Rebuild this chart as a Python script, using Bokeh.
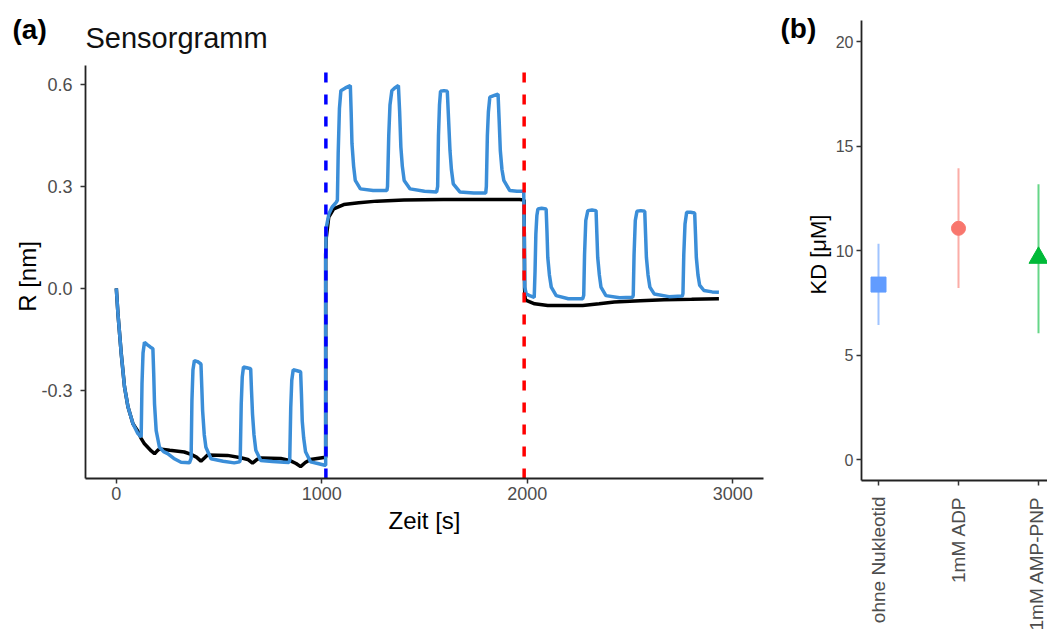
import math
from bokeh.plotting import figure
from bokeh.models import Label, FixedTicker, NumeralTickFormatter, Range1d
from bokeh.layouts import row
from bokeh.embed import file_html
from bokeh.resources import INLINE

# ---------------- data: panel (a) sensorgram ----------------
blue_t = [0, 8, 24, 40, 57, 81, 105, 121, 125, 130, 137, 150, 165, 178, 182, 186, 194, 210, 230, 250, 280, 315, 356,
          364, 368, 373, 380, 395, 412, 416, 420, 428, 436, 461, 520, 574, 600,
          603, 608, 613, 619, 635, 654, 658, 663, 670, 679, 703, 760, 816, 840,
          844, 849, 854, 861, 880, 897, 901, 905, 912, 921, 945, 980, 1015,
          1019, 1019, 1022, 1035, 1050, 1071, 1076,
          1080, 1086, 1093, 1115, 1139, 1143, 1147, 1155, 1163, 1188, 1250, 1317,
          1320, 1326, 1332, 1341, 1355, 1373, 1379, 1385, 1392, 1401, 1430, 1500, 1559,
          1564, 1568, 1573, 1578, 1595, 1611, 1617, 1624, 1631, 1640, 1672, 1740, 1798,
          1801, 1806, 1811, 1818, 1840, 1858, 1863, 1869, 1877, 1886, 1915, 1950, 1983,
          1986, 1988, 1995, 2015, 2034,
          2038, 2042, 2047, 2052, 2070, 2092, 2096, 2100, 2108, 2117, 2141, 2200, 2270,
          2275, 2279, 2285, 2295, 2315, 2335, 2339, 2343, 2351, 2359, 2383, 2450, 2513,
          2516, 2520, 2526, 2534, 2553, 2572, 2576, 2580, 2588, 2597, 2618, 2690, 2755,
          2758, 2762, 2768, 2776, 2795, 2815, 2819, 2823, 2831, 2839, 2860, 2900, 2933]
blue_r = [0.0, -0.075, -0.192, -0.29, -0.349, -0.398, -0.427, -0.437, -0.28, -0.19, -0.158, -0.165, -0.172, -0.177, -0.25, -0.34, -0.418, -0.467, -0.48, -0.486, -0.50, -0.511, -0.513,
          -0.50, -0.33, -0.24, -0.212, -0.215, -0.222, -0.29, -0.359, -0.43, -0.467, -0.501, -0.508, -0.513, -0.51,
          -0.505, -0.34, -0.26, -0.231, -0.233, -0.236, -0.30, -0.37, -0.43, -0.476, -0.506, -0.509, -0.511, -0.512,
          -0.505, -0.35, -0.27, -0.239, -0.242, -0.245, -0.31, -0.39, -0.44, -0.48, -0.51, -0.515, -0.52,
          -0.52, 0.10, 0.18, 0.22, 0.239, 0.254, 0.26,
          0.40, 0.53, 0.582, 0.59, 0.597, 0.52, 0.426, 0.36, 0.318, 0.293, 0.288, 0.288,
          0.30, 0.45, 0.54, 0.582, 0.59, 0.597, 0.52, 0.416, 0.36, 0.318, 0.293, 0.286, 0.284,
          0.30, 0.45, 0.54, 0.58, 0.582, 0.58, 0.50, 0.406, 0.35, 0.308, 0.284, 0.281, 0.281,
          0.30, 0.45, 0.52, 0.563, 0.568, 0.572, 0.50, 0.406, 0.35, 0.318, 0.288, 0.286, 0.286,
          0.15, 0.004, -0.016, -0.022, -0.026,
          0.05, 0.16, 0.215, 0.234, 0.236, 0.234, 0.17, 0.092, 0.04, 0.004, -0.021, -0.03, -0.03,
          -0.02, 0.10, 0.20, 0.229, 0.231, 0.229, 0.16, 0.092, 0.04, 0.004, -0.021, -0.027, -0.026,
          -0.02, 0.10, 0.20, 0.227, 0.229, 0.227, 0.16, 0.092, 0.04, 0.004, -0.016, -0.024, -0.022,
          -0.015, 0.10, 0.19, 0.224, 0.224, 0.222, 0.16, 0.092, 0.04, 0.01, -0.006, -0.01, -0.011]

black_t = [0, 8, 24, 40, 57, 81, 105, 120, 137, 170, 186, 200, 210, 260, 331, 364, 390, 412, 430, 444, 541, 606,
           640, 663, 685, 703, 800, 848, 875, 897, 920, 945, 1010, 1019,
           1019, 1022, 1034, 1058, 1107, 1180, 1268, 1400, 1591, 1800, 1963, 1985,
           1987, 1990, 1995, 2036, 2100, 2149, 2270, 2350, 2424, 2550, 2666, 2800, 2933]
black_r = [0.0, -0.075, -0.192, -0.29, -0.349, -0.398, -0.42, -0.44, -0.457, -0.478, -0.486, -0.477, -0.472, -0.476, -0.481, -0.488, -0.496, -0.508, -0.498, -0.49, -0.491, -0.498,
           -0.503, -0.514, -0.503, -0.499, -0.50, -0.507, -0.515, -0.524, -0.512, -0.503, -0.497, -0.497,
           0.10, 0.15, 0.21, 0.234, 0.247, 0.252, 0.257, 0.26, 0.262, 0.262, 0.262, 0.26,
           0.0, -0.03, -0.035, -0.045, -0.05, -0.05, -0.05, -0.045, -0.04, -0.036, -0.033, -0.032, -0.03]

injection_times = [1020, 1985]
injection_colors = ["#0000FF", "#FF0000"]

x_ticks_a = [0, 1000, 2000, 3000]
y_ticks_a = [-0.3, 0.0, 0.3, 0.6]

# ---------------- data: panel (b) KD ----------------
conditions = ["ohne Nukleotid", "1mM ADP", "1mM AMP-PNP"]
kd = [8.37, 11.06, 9.65]
kd_low = [6.44, 8.21, 6.04]
kd_high = [10.32, 13.93, 13.17]
kd_colors = ["#619CFF", "#F8766D", "#00BA38"]
kd_markers = ["square", "circle", "triangle"]
kd_sizes = [15, 14, 19]
y_ticks_b = [0, 5, 10, 15, 20]

FONT = "Liberation Sans"
TICK_COL = "#4d4d4d"
AXIS_COL = "#222222"

# ---------------- layout geometry (page pixels) ----------------
PAGE_TOP, PAGE_BOTTOM = 0, 632


def make_map(d_lo, d_hi, p_lo, p_hi):
    """page pixel -> data value, given that data d_lo sits at pixel p_lo and d_hi at p_hi"""
    k = (d_hi - d_lo) / (p_hi - p_lo)
    return lambda px: d_lo + (px - p_lo) * k


# panel (a): plot box 85..763 (x), 478..65 (y)
A_X = (-150, 3150)
A_Y = (-0.559, 0.656)
ax_map = make_map(A_X[0], A_X[1], 85, 763)
ay_map = make_map(A_Y[0], A_Y[1], 478, 65)
A_LEFT, A_RIGHT = 0, 770

# panel (b): category 1 at 878, 80 px per category; y 0 at 459, 20 at 41
bx_map = make_map(1, 2, 878, 958)
by_map = make_map(0, 20, 459, 41)
B_LEFT, B_RIGHT = 770, 1047
B_X = (bx_map(861), bx_map(B_RIGHT))
B_Y = (-1, 21)


def style_axes(p, tick_size):
    for ax in (p.xaxis, p.yaxis):
        ax.axis_line_color = AXIS_COL
        ax.axis_line_width = 1.8
        ax.major_tick_line_color = "#333333"
        ax.major_tick_line_width = 1.5
        ax.major_tick_out = 5
        ax.major_tick_in = 0
        ax.minor_tick_line_color = None
        ax.major_label_text_font = FONT
        ax.major_label_text_font_size = tick_size
        ax.major_label_text_color = TICK_COL
    p.xgrid.visible = False
    p.ygrid.visible = False
    p.outline_line_color = None
    p.background_fill_color = "white"
    p.border_fill_color = "white"


def txt(p, x, y, text, size, bold=False, angle=0.0, align="left", color="black"):
    p.add_layout(Label(x=x, y=y, text=text, angle=angle, text_align=align, text_baseline="middle",
                       text_font=FONT, text_font_size=size, text_color=color,
                       text_font_style="bold" if bold else "normal"))


def make_fig(left, right, xm, ym):
    return figure(width=right - left, height=PAGE_BOTTOM - PAGE_TOP,
                  x_range=Range1d(xm(left), xm(right)),
                  y_range=Range1d(ym(PAGE_BOTTOM), ym(PAGE_TOP)),
                  output_backend="svg", toolbar_location=None, min_border=0,
                  min_border_left=0, min_border_right=0, min_border_top=0, min_border_bottom=0)


# ---------------- panel (a) ----------------
pa = make_fig(A_LEFT, A_RIGHT, ax_map, ay_map)
style_axes(pa, "18px")
pa.xaxis.fixed_location = A_Y[0]
pa.xaxis.bounds = A_X
pa.yaxis.fixed_location = A_X[0]
pa.yaxis.bounds = A_Y
pa.xaxis.ticker = FixedTicker(ticks=x_ticks_a)
pa.yaxis.ticker = FixedTicker(ticks=y_ticks_a)
pa.yaxis.formatter = NumeralTickFormatter(format="0.0")
pa.xaxis.major_label_standoff = 3
pa.yaxis.major_label_standoff = 8

pa.line(black_t, black_r, line_color="black", line_width=3.5)
pa.line(blue_t, blue_r, line_color="#3B8ED8", line_width=3.5)

pa.segment(x0=injection_times, y0=[A_Y[0]] * 2, x1=injection_times, y1=[A_Y[1]] * 2,
           line_color=injection_colors, line_width=3.5, line_dash="10 12")

txt(pa, ax_map(12), ay_map(29), "(a)", "28px", bold=True)
txt(pa, ax_map(85), ay_map(37), "Sensorgramm", "29px", color="#111111")
txt(pa, ax_map(424), ay_map(520), "Zeit [s]", "24px", align="center")
txt(pa, ax_map(27), ay_map(276), "R [nm]", "24px", angle=math.pi / 2, align="center")

# ---------------- panel (b) ----------------
xs = [1, 2, 3]
pb = make_fig(B_LEFT, B_RIGHT, bx_map, by_map)
style_axes(pb, "16px")
pb.xaxis.fixed_location = B_Y[0]
pb.xaxis.bounds = B_X
pb.yaxis.fixed_location = B_X[0]
pb.yaxis.bounds = B_Y
pb.xaxis.ticker = FixedTicker(ticks=xs)
pb.xaxis.major_label_overrides = {i: c for i, c in zip(xs, conditions)}
pb.xaxis.major_label_orientation = math.pi / 2
pb.xaxis.major_label_text_font_size = "19px"
pb.xaxis.major_label_standoff = 11
pb.yaxis.ticker = FixedTicker(ticks=y_ticks_b)
pb.yaxis.major_label_standoff = 3

pb.segment(x0=xs, y0=kd_low, x1=xs, y1=kd_high, line_color=kd_colors, line_width=2, line_alpha=0.6)
pb.scatter(x=xs, y=kd, marker=kd_markers, size=kd_sizes, fill_color=kd_colors, line_color=kd_colors)

txt(pb, bx_map(780), by_map(28), "(b)", "28px", bold=True)
txt(pb, bx_map(818), by_map(254), "KD [\u03bcM]", "22px", angle=math.pi / 2, align="center")

layout = row(pa, pb)
open("out.html", "w").write(file_html(layout, INLINE))
